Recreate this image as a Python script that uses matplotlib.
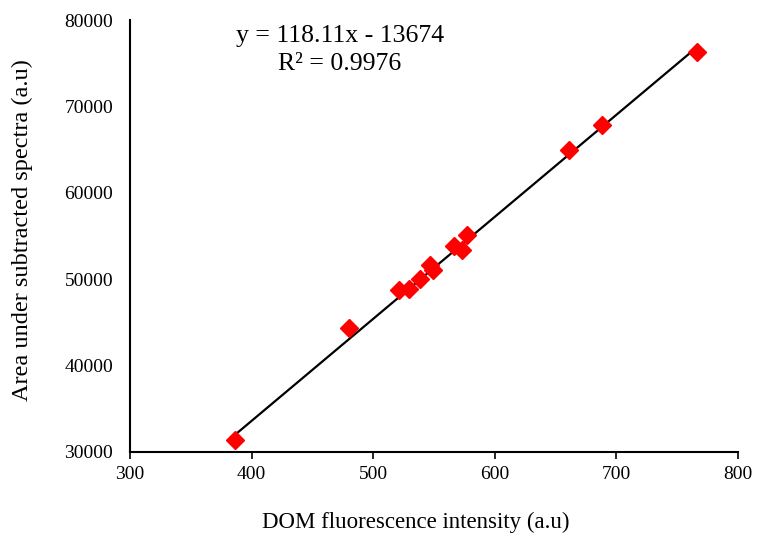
import matplotlib
matplotlib.use("Agg")
import matplotlib.pyplot as plt
import numpy as np

plt.rcParams['font.family'] = ['Liberation Serif', 'DejaVu Serif']

# DOM fluorescence intensity vs. area under subtracted spectra
fluorescence = [386.5, 480.3, 521.5, 529.5, 538.5, 546.5, 549.0, 567.0, 573.0, 577.0, 661.6, 688.2, 766.7]
area = [31400, 44300, 48700, 48900, 50000, 51600, 51000, 53800, 53400, 55100, 64900, 67900, 76300]

slope = 118.11
intercept = -13674
r_squared = 0.9976

x_ticks = [300, 400, 500, 600, 700, 800]
y_ticks = [30000, 40000, 50000, 60000, 70000, 80000]

fig = plt.figure(figsize=(7.57, 5.34), dpi=100)
ax = fig.add_axes([0.1717, 0.154, 0.8028, 0.8085])

# linear trendline over the data range
xf = np.array([min(fluorescence), max(fluorescence)])
ax.plot(xf, slope * xf + intercept, color='black', lw=1.6, zorder=2)
ax.plot(fluorescence, area, linestyle='none', marker='D', ms=9,
        color='#ff0000', mec='#ff0000', zorder=3)

ax.set_xlim(300, 800)
ax.set_ylim(30000, 80000)
ax.set_xticks(x_ticks)
ax.set_yticks(y_ticks)
ax.tick_params(axis='x', direction='out', length=5, width=1.2, labelsize=14, pad=5)
ax.tick_params(axis='y', length=0, labelsize=14, pad=12)

for side in ('top', 'right'):
    ax.spines[side].set_visible(False)
for side in ('left', 'bottom'):
    ax.spines[side].set_linewidth(1.5)

ax.set_xlabel('DOM fluorescence intensity (a.u)', fontsize=16.5, labelpad=12)
ax.xaxis.set_label_coords((416 - 130) / 607.7, -0.14)
ax.set_ylabel('Area under subtracted spectra (a.u)', fontsize=17.5, labelpad=10)
ax.yaxis.set_label_coords(-0.16, (451.7 - 230) / 431.7)

eq = f'y = {slope}x - {abs(intercept)}\nR\u00b2 = {r_squared}'
fig.text(340 / 757, 1 - 50 / 534, eq, ha='center', va='center',
         fontsize=18.5, linespacing=1.4)

fig.savefig('out.png', dpi=100)
